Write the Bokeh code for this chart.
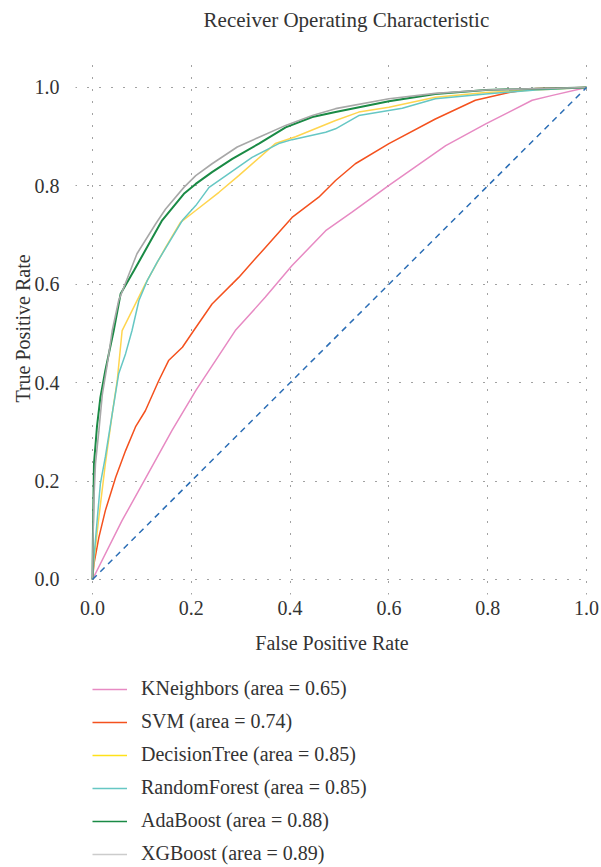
from bokeh.plotting import figure
from bokeh.layouts import column
from bokeh.models import Legend, LegendItem, FixedTicker, PrintfTickFormatter, Range1d, Label
from bokeh.embed import file_html
from bokeh.resources import INLINE

# ---- data ----
knn_fpr = [0, 0.06, 0.107, 0.161, 0.209, 0.289, 0.35, 0.404, 0.472, 0.526, 0.60, 0.715, 0.796, 0.843, 0.89, 0.931, 1.0]
knn_tpr = [0, 0.12, 0.205, 0.303, 0.384, 0.506, 0.574, 0.638, 0.709, 0.747, 0.801, 0.882, 0.926, 0.95, 0.974, 0.984, 1.0]

svm_fpr = [0, 0.003, 0.013, 0.026, 0.047, 0.067, 0.087, 0.107, 0.134, 0.154, 0.182, 0.205, 0.242, 0.296, 0.35, 0.404, 0.458, 0.492, 0.532, 0.60, 0.694, 0.775, 0.843, 0.897, 1.0]
svm_tpr = [0, 0.032, 0.086, 0.14, 0.208, 0.262, 0.31, 0.343, 0.404, 0.445, 0.472, 0.506, 0.56, 0.614, 0.675, 0.736, 0.777, 0.811, 0.845, 0.886, 0.936, 0.974, 0.99, 0.998, 1.0]

dt_fpr = [0, 0.003, 0.013, 0.026, 0.04, 0.05, 0.06, 0.107, 0.148, 0.178, 0.209, 0.256, 0.296, 0.37, 0.411, 0.492, 0.539, 0.60, 0.694, 0.796, 0.897, 1.0]
dt_tpr = [0, 0.039, 0.127, 0.235, 0.337, 0.404, 0.506, 0.601, 0.675, 0.726, 0.75, 0.787, 0.821, 0.886, 0.90, 0.933, 0.95, 0.96, 0.98, 0.99, 0.995, 1.0]

rf_fpr = [0, 0.003, 0.010, 0.016, 0.026, 0.04, 0.053, 0.067, 0.08, 0.094, 0.111, 0.131, 0.182, 0.209, 0.236, 0.276, 0.323, 0.377, 0.404, 0.472, 0.492, 0.539, 0.627, 0.694, 0.796, 0.897, 1.0]
rf_tpr = [0, 0.045, 0.127, 0.195, 0.249, 0.337, 0.418, 0.459, 0.506, 0.567, 0.608, 0.645, 0.73, 0.76, 0.797, 0.825, 0.858, 0.886, 0.894, 0.909, 0.916, 0.943, 0.958, 0.977, 0.987, 0.995, 1.0]

ada_fpr = [0, 0.001, 0.003, 0.009, 0.016, 0.026, 0.043, 0.057, 0.084, 0.141, 0.185, 0.209, 0.242, 0.283, 0.337, 0.391, 0.445, 0.492, 0.60, 0.694, 0.796, 1.0]
ada_tpr = [0, 0.10, 0.235, 0.31, 0.37, 0.425, 0.506, 0.581, 0.628, 0.73, 0.784, 0.804, 0.828, 0.855, 0.886, 0.919, 0.94, 0.95, 0.972, 0.987, 0.995, 1.0]

xgb_fpr = [0, 0.001, 0.003, 0.006, 0.013, 0.02, 0.03, 0.04, 0.053, 0.09, 0.128, 0.148, 0.185, 0.209, 0.242, 0.293, 0.337, 0.391, 0.445, 0.492, 0.60, 0.694, 0.796, 1.0]
xgb_tpr = [0, 0.08, 0.167, 0.235, 0.303, 0.377, 0.438, 0.506, 0.567, 0.662, 0.723, 0.753, 0.797, 0.821, 0.845, 0.879, 0.899, 0.923, 0.943, 0.957, 0.977, 0.988, 0.995, 1.0]

chance = [0, 1]

names = ["KNeighbors", "SVM", "DecisionTree", "RandomForest", "AdaBoost", "XGBoost"]
areas = [0.65, 0.74, 0.85, 0.85, 0.88, 0.89]
ticks = [0.0, 0.2, 0.4, 0.6, 0.8, 1.0]
title_text = "Receiver Operating Characteristic"

series = [(knn_fpr, knn_tpr), (svm_fpr, svm_tpr), (dt_fpr, dt_tpr),
          (rf_fpr, rf_tpr), (ada_fpr, ada_tpr), (xgb_fpr, xgb_tpr)]
colors = ["#e78ac3", "#f4511e", "#ffd54f", "#66c7c4", "#1a8a45", "#a8a8a8"]
legend_colors = ["#e78ac3", "#f4511e", "#ffe11a", "#66c7c4", "#1a8a45", "#cccccc"]
widths = [1.5, 1.5, 1.5, 1.5, 2.0, 1.6]

FONT = "Liberation Serif"
TXT = "#333333"
X0, X1 = -0.0344, 1.004
LEFT, RIGHT = 75, 12
FRAME_W = 513

# ---------------- title strip ----------------
head = figure(width=LEFT + FRAME_W + RIGHT, height=62, min_border=0,
              min_border_left=LEFT, min_border_right=RIGHT,
              x_range=Range1d(X0, X1), y_range=Range1d(0, 1),
              x_axis_location=None, y_axis_location=None,
              output_backend="svg", toolbar_location=None)
head.outline_line_color = None
head.grid.visible = False
head.add_layout(Label(x=0.514, y=43, y_units="screen", text=title_text,
                      text_font=FONT, text_font_size="21px", text_color=TXT,
                      text_align="center", text_baseline="middle"))

# ---------------- main chart ----------------
p = figure(frame_width=FRAME_W, frame_height=532,
           min_border_left=LEFT, min_border_right=RIGHT, min_border_top=0, min_border_bottom=72,
           x_range=Range1d(X0, X1), y_range=Range1d(-0.0305, 1.0508),
           output_backend="svg", toolbar_location=None)

p.outline_line_color = None
p.background_fill_color = "white"

for ax in (p.xaxis[0], p.yaxis[0]):
    ax.ticker = FixedTicker(ticks=ticks)
    ax.formatter = PrintfTickFormatter(format="%.1f")
    ax.axis_line_color = None
    ax.major_tick_line_color = None
    ax.minor_tick_line_color = None
    ax.major_label_text_font = FONT
    ax.major_label_text_font_size = "20px"
    ax.major_label_text_color = TXT
    ax.axis_label_text_font = FONT
    ax.axis_label_text_font_size = "20px"
    ax.axis_label_text_font_style = "normal"
    ax.axis_label_text_color = TXT

p.xaxis.axis_label = "False Positive Rate"
p.yaxis.axis_label = "True Positive Rate"
p.xaxis.major_label_standoff = 0
p.xaxis.axis_label_standoff = 14
p.yaxis.major_label_standoff = 10
p.yaxis.axis_label_standoff = -2

for g in (p.xgrid[0], p.ygrid[0]):
    g.ticker = FixedTicker(ticks=ticks)
    g.grid_line_color = "#444444"
    g.grid_line_width = 1
    g.grid_line_dash = "1 11"

for (fx, fy), c, w in zip(series, colors, widths):
    p.line(fx, fy, line_color=c, line_width=w)

p.line(chance, chance, line_color="#2a6db5", line_width=1.5, line_dash="6 5")

# ---------------- legend strip below ----------------
leg = figure(width=LEFT + FRAME_W + RIGHT, height=200, min_border=0,
             min_border_left=LEFT, min_border_right=RIGHT,
             x_range=Range1d(5, 6), y_range=Range1d(5, 6),
             x_axis_location=None, y_axis_location=None,
             output_backend="svg", toolbar_location=None)
leg.outline_line_color = None
leg.grid.visible = False

items = []
for (fx, fy), name, area, c in zip(series, names, areas, legend_colors):
    r = leg.line(fx, fy, line_color=c, line_width=1.5)
    items.append(LegendItem(label="%s (area = %.2f)" % (name, area), renderers=[r]))

legend = Legend(items=items, location=(92 - LEFT, 1), orientation="vertical",
                padding=0, margin=0, spacing=10,
                label_height=20, glyph_height=20, glyph_width=35, label_standoff=14,
                label_text_font=FONT, label_text_font_size="20px", label_text_color=TXT,
                border_line_color=None, background_fill_alpha=0)
leg.add_layout(legend, "center")

layout = column(head, p, leg, spacing=0)

open("out.html", "w").write(file_html(layout, INLINE))
